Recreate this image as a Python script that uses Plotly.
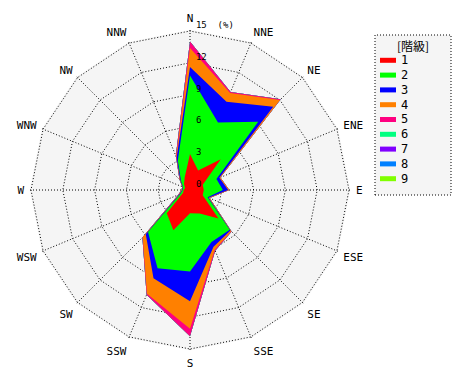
import numpy as np
import plotly.graph_objects as go

W, H = 470, 380

directions = ["N", "NNE", "NE", "ENE", "E", "ESE", "SE", "SSE",
              "S", "SSW", "SW", "WSW", "W", "WNW", "NW", "NNW"]

# frequency (%) per class and direction
class1 = [3.4, 2.0, 4.1, 1.3, 1.3, 1.3, 3.8, 2.4, 2.2, 4.1, 3.1, 0.7, 0.6, 0.5, 0.8, 1.3]
class2 = [7.4, 4.9, 5.0, 1.4, 1.8, 0.5, 1.5, 2.9, 5.5, 3.9, 2.5, 0.3, 0.1, 0.2, 0.4, 1.7]
class3 = [0.8, 2.1, 2.0, 0.3, 0.5, 0.1, 0.1, 0.5, 2.8, 1.0, 0.3, 0.1, 0.05, 0.05, 0.1, 0.3]
class4 = [1.8, 0.9, 0.9, 0.1, 0.1, 0.1, 0.1, 0.3, 2.6, 1.6, 0.4, 0.05, 0.05, 0.05, 0.05, 0.1]
class5 = [0.6, 0.1, 0.1, 0.0, 0.0, 0.0, 0.05, 0.1, 0.7, 0.1, 0.05, 0.05, 0.0, 0.0, 0.05, 0.1]
class6 = [0.0] * 16
class7 = [0.0] * 16
class8 = [0.0] * 16
class9 = [0.0] * 16

class_labels = ["1", "2", "3", "4", "5", "6", "7", "8", "9"]
class_colors = ["#ff0000", "#00ff00", "#0000ff", "#ff8000", "#ff0080",
                "#00ff80", "#8000ff", "#0080ff", "#80ff00"]

radial_ticks = [0, 3, 6, 9, 12, 15]
radial_text = ["0", "3", "6", "9", "12", "15\u00a0\u00a0(%)"]
legend_title = "[階級]"

classes = [class1, class2, class3, class4, class5, class6, class7, class8, class9]
cum = np.cumsum(np.array(classes), axis=0)

fig = go.Figure()
theta_closed = directions + [directions[0]]
for i in range(len(classes) - 1, -1, -1):
    r = list(cum[i]) + [cum[i][0]]
    fig.add_trace(go.Scatterpolar(
        r=r, theta=theta_closed, mode="lines", fill="toself",
        fillcolor=class_colors[i], line=dict(color=class_colors[i], width=0),
        name=class_labels[i], showlegend=False, hoverinfo="skip"))

RMAX = 15.12
R_PX = 159 * RMAX / 15.0
CX, CY = 190, 190
DOT = "1px,2px"
fig.update_layout(
    width=W, height=H, autosize=False,
    margin=dict(l=0, r=0, t=0, b=0),
    paper_bgcolor="white",
    showlegend=False,
    polar=dict(
        domain=dict(x=[(CX - R_PX) / W, (CX + R_PX) / W],
                    y=[1 - (CY + R_PX) / H, 1 - (CY - R_PX) / H]),
        bgcolor="#f5f5f5",
        gridshape="linear",
        angularaxis=dict(
            type="category", categoryarray=directions,
            rotation=90, direction="clockwise",
            showgrid=True, gridcolor="black", griddash=DOT, gridwidth=1,
            showline=False,
            ticks="outside", ticklen=3, tickcolor="rgba(0,0,0,0)",
            layer="above traces",
            tickfont=dict(family="DejaVu Sans Mono", size=11, color="black"),
        ),
        radialaxis=dict(
            range=[0, RMAX], tickvals=radial_ticks,
            ticktext=["\u00a0" + t + "<br>\u00a0" for t in radial_text],
            angle=90, tickangle=90, showline=False, ticks="",
            showgrid=True, gridcolor="black", griddash=DOT, gridwidth=1,
            layer="above traces",
            tickfont=dict(family="DejaVu Sans Mono", size=9, color="black"),
        ),
    ),
)

# legend box
def px(x):
    return x / W

def py(y):
    return 1 - y / H

shapes = [dict(type="rect", xref="paper", yref="paper",
               x0=px(375), x1=px(451), y0=py(195), y1=py(35),
               line=dict(color="black", width=1, dash=DOT),
               fillcolor="#f5f5f5", layer="below")]
annotations = [dict(text=legend_title, xref="paper", yref="paper",
                    x=px(413), y=py(45), xanchor="center", yanchor="middle",
                    showarrow=False,
                    font=dict(family="Noto Sans CJK JP", size=12, color="black"))]
for i, (lab, col) in enumerate(zip(class_labels, class_colors)):
    yc = 60.3 + 14.8 * i
    shapes.append(dict(type="rect", xref="paper", yref="paper",
                       x0=px(380), x1=px(396), y0=py(yc + 2.5), y1=py(yc - 2.5),
                       line=dict(width=0), fillcolor=col))
    annotations.append(dict(text=lab, xref="paper", yref="paper",
                            x=px(399), y=py(yc), xanchor="left", yanchor="middle",
                            showarrow=False,
                            font=dict(family="DejaVu Sans Mono", size=12, color="black")))
fig.update_layout(shapes=shapes, annotations=annotations)

fig.write_html("out.html", config={"displayModeBar": False, "staticPlot": True},
               post_script="document.body.style.margin='0';")
